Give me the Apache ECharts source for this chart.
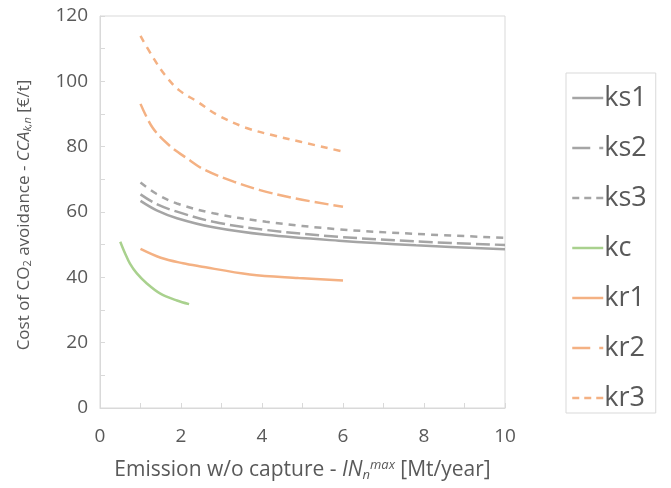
<!DOCTYPE html>
<html><head><meta charset="utf-8">
<script src="https://cdn.jsdelivr.net/npm/echarts@6/dist/echarts.min.js"></script>
<style>html,body{margin:0;padding:0;background:#fff}#c{width:671px;height:488px}</style>
</head><body><div id="c"></div>
<script>
const xTicks = [0, 2, 4, 6, 8, 10];
const yTicks = [0, 20, 40, 60, 80, 100, 120];
const seriesNames = ['ks1', 'ks2', 'ks3', 'kc', 'kr1', 'kr2', 'kr3'];
const ksX  = [1, 1.4, 1.9, 2.8, 4.1, 5.9, 7.8, 10];
const ks1Y = [63.4, 60.5, 58.1, 55.3, 53.0, 51.2, 49.8, 48.6];
const ks2Y = [65.4, 62.4, 60.1, 57.0, 54.5, 52.4, 51.0, 49.9];
const ks3Y = [69.0, 65.5, 62.6, 59.6, 57.0, 54.7, 53.3, 52.1];
const kcX  = [0.5, 0.62, 0.74, 0.91, 1.15, 1.48, 1.9, 2.2];
const kcY  = [50.9, 47.3, 44.2, 41.2, 38.2, 35.1, 32.9, 31.8];
const kr1X = [1, 1.5, 2.05, 2.45, 3.7, 4.9, 6];
const kr1Y = [48.7, 46.0, 44.3, 43.4, 40.9, 39.8, 39.0];
const kr2X = [1, 1.3, 1.7, 2.15, 2.6, 3.3, 3.95, 4.8, 6];
const kr2Y = [93.1, 85.8, 80.5, 76.4, 72.8, 69.3, 66.7, 64.2, 61.6];
const kr3X = [1, 1.3, 1.6, 1.95, 2.4, 2.9, 3.6, 4.3, 4.95, 6];
const kr3Y = [113.9, 107.5, 102, 97.3, 93.8, 89.7, 85.8, 83.4, 81.5, 78.5];

const GRAY = '#a5a5a5', GREEN = '#a9d18e', ORANGE = '#f4b183';
const pairs = (xs, ys) => xs.map((x, i) => [x, ys[i]]);
const dataSets = [
  pairs(ksX, ks1Y), pairs(ksX, ks2Y), pairs(ksX, ks3Y),
  pairs(kcX, kcY), pairs(kr1X, kr1Y), pairs(kr2X, kr2Y), pairs(kr3X, kr3Y)
];
const colors = [GRAY, GRAY, GRAY, GREEN, ORANGE, ORANGE, ORANGE];
const plotStyles = ['solid', [14, 5], [7, 6], 'solid', 'solid', [14, 5], [7, 6]];
const legendStyles = ['solid', [18, 9], [7, 5], 'solid', 'solid', [18, 9], [7, 5]];
const FONT = '"Open Sans", "Liberation Sans", sans-serif';
const TXT = '#595959';

const chart = echarts.init(document.getElementById('c'), null, {renderer: 'canvas'});
chart.setOption({
  animation: false,
  textStyle: {fontFamily: FONT},
  grid: {left: 100, right: 166, top: 16, bottom: 80, show: true, borderColor: '#d9d9d9', borderWidth: 1},
  xAxis: {
    type: 'value', min: xTicks[0], max: xTicks[xTicks.length - 1], interval: 2,
    axisLine: {show: true, lineStyle: {color: '#d9d9d9'}},
    axisTick: {show: true, inside: true, length: 5, lineStyle: {color: '#d9d9d9'}},
    minorTick: {show: true, splitNumber: 2, length: 5, lineStyle: {color: '#d9d9d9'}},
    splitLine: {show: false},
    axisLabel: {color: TXT, fontSize: 19, margin: 19, fontFamily: FONT},
    name: 'Emission w/o capture - {it|IN}{sub|n}{sup|max} [Mt/year]',
    nameLocation: 'middle', nameGap: 51,
    nameTextStyle: {
      color: TXT, fontSize: 21, fontFamily: FONT,
      rich: {
        it: {fontStyle: 'italic', fontSize: 21, color: TXT, fontFamily: FONT},
        sub: {fontStyle: 'italic', fontSize: 13, color: TXT, verticalAlign: 'bottom', padding: [10, 0, 0, 0], fontFamily: FONT},
        sup: {fontStyle: 'italic', fontSize: 13, color: TXT, verticalAlign: 'top', padding: [0, 0, 10, 0], fontFamily: FONT}
      }
    }
  },
  yAxis: {
    type: 'value', min: yTicks[0], max: yTicks[yTicks.length - 1], interval: 20,
    axisLine: {show: true, lineStyle: {color: '#d9d9d9'}},
    axisTick: {show: true, inside: true, length: 5, lineStyle: {color: '#d9d9d9'}},
    minorTick: {show: true, splitNumber: 2, length: 5, lineStyle: {color: '#d9d9d9'}},
    splitLine: {show: false},
    axisLabel: {color: TXT, fontSize: 19, margin: 12, fontFamily: FONT}
  },
  graphic: [{
    type: 'text', x: 24, y: 215, rotation: Math.PI / 2,
    style: {
      text: 'Cost of CO{sub|2} avoidance - {it|CCA}{itsub|k,n} [€/t]',
      fill: TXT, fontSize: 17, fontFamily: FONT, align: 'center', verticalAlign: 'middle',
      rich: {
        sub: {fontSize: 11, fill: TXT, verticalAlign: 'bottom', padding: [8, 0, 0, 0], fontFamily: FONT},
        it: {fontStyle: 'italic', fontSize: 17, fill: TXT, fontFamily: FONT},
        itsub: {fontStyle: 'italic', fontSize: 11, fill: TXT, verticalAlign: 'bottom', padding: [8, 0, 0, 0], fontFamily: FONT}
      }
    }
  }],
  legend: {
    orient: 'vertical', left: 566, top: 73,
    padding: [10, 9, 0, 5],
    borderColor: '#d9d9d9', borderWidth: 1,
    itemWidth: 31, itemHeight: 14, itemGap: 20,
    data: seriesNames.map((n, i) => ({name: n, lineStyle: {type: legendStyles[i], width: 2.5}})),
    itemStyle: {opacity: 0, borderWidth: 0},
    textStyle: {color: TXT, fontSize: 27, lineHeight: 30, padding: [0, 0, 0, -4], fontFamily: FONT}
  },
  series: seriesNames.map((n, i) => ({
    name: n, type: 'line', smooth: 0.35, symbol: 'none', showSymbol: false,
    data: dataSets[i],
    lineStyle: {color: colors[i], type: plotStyles[i], width: 2.5},
    itemStyle: {color: colors[i]}
  }))
});
</script></body></html>
